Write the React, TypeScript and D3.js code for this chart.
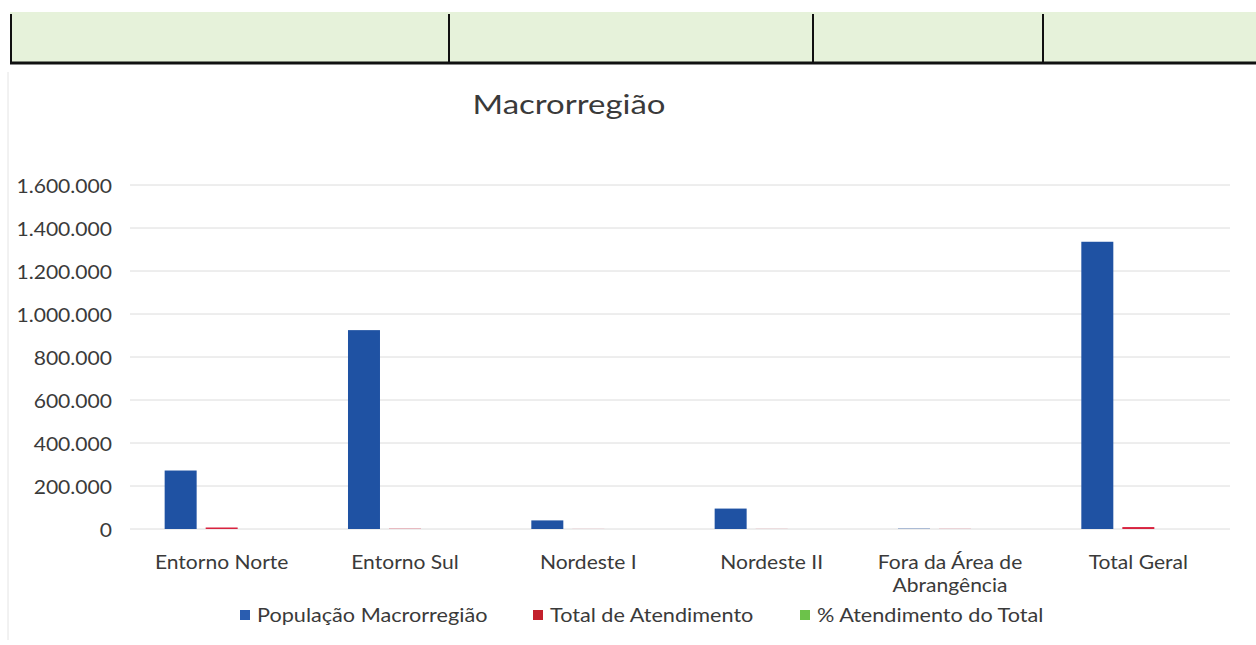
import React, { useEffect, useRef } from "react";
import * as d3 from "d3";

const categories = ["Entorno Norte", "Entorno Sul", "Nordeste I", "Nordeste II", "Fora da Área de Abrangência", "Total Geral"];
const seriesNames = ["População Macrorregião", "Total de Atendimento", "% Atendimento do Total"];
const populacao = [272000, 925000, 40000, 95000, 1500, 1336000];
const atendimento = [7000, 1200, 300, 400, 600, 9000];
const percentual = [0.026, 0.001, 0.008, 0.004, 0.4, 0.007];
const yTicks = [0, 200000, 400000, 600000, 800000, 1000000, 1200000, 1400000, 1600000];
const colors = ["#1f52a3", "#d8233f", "#6cc24a"];
const legendColors = ["#2a5db0", "#c3202c", "#6cc24a"];

const W = 1256;
const H = 645;
const FONT = "Lato, 'Open Sans', sans-serif";

// texto com leve esticamento horizontal (fonte do scan é mais larga)
const addText = (g, x, y, txt, size, anchor, sx) =>
  g.append("text")
    .attr("transform", `translate(${x},${y}) scale(${sx},1)`)
    .attr("text-anchor", anchor)
    .style("font-family", FONT)
    .style("font-size", size + "px")
    .style("fill", "#3a3a3a")
    .text(txt);

const App = () => {
  const ref = useRef(null);

  useEffect(() => {
    const svg = d3.select(ref.current);
    svg.selectAll("*").remove();

    // faixa verde da tabela acima
    const top = svg.append("g");
    top.append("rect").attr("x", 10).attr("y", 12).attr("width", W - 10).attr("height", 51).attr("fill", "#e6f2da");
    top.append("line").attr("x1", 10).attr("x2", W).attr("y1", 63).attr("y2", 63).attr("stroke", "#111").attr("stroke-width", 3);
    [11, 449, 813, 1043].forEach(x => {
      top.append("line").attr("x1", x).attr("x2", x).attr("y1", 14).attr("y2", 63).attr("stroke", "#111").attr("stroke-width", 2);
    });
    svg.append("line").attr("x1", 8).attr("x2", 8).attr("y1", 72).attr("y2", 640).attr("stroke", "#e4e4e4").attr("stroke-width", 1);

    addText(svg, 569, 114, "Macrorregião", 27, "middle", 1.22);

    const x = d3.scaleBand().domain(categories).range([130, 1230]).padding(0);
    const xs = d3.scaleBand().domain(seriesNames).range([0, x.bandwidth()]).paddingInner(0.22).paddingOuter(0.845);
    const y = d3.scaleLinear().domain([0, 1600000]).range([529, 185]);
    const fmt = d3.formatLocale({ decimal: ",", thousands: ".", grouping: [3], currency: ["R$", ""] }).format(",d");

    const grid = svg.append("g");
    yTicks.forEach(t => {
      grid.append("line")
        .attr("x1", 130).attr("x2", 1230)
        .attr("y1", y(t)).attr("y2", y(t))
        .attr("stroke", "#dcdcdc").attr("stroke-width", 1);
      addText(grid, 112, y(t) + 7.5, fmt(t), 18.5, "end", 1.14);
    });

    const seriesData = [populacao, atendimento, percentual];
    seriesData.forEach((vals, si) => {
      svg.append("g")
        .selectAll("rect")
        .data(vals)
        .join("rect")
        .attr("x", (d, i) => x(categories[i]) + xs(seriesNames[si]))
        .attr("width", xs.bandwidth())
        .attr("y", d => y(d))
        .attr("height", d => y(0) - y(d))
        .attr("fill", colors[si]);
    });

    const labels = svg.append("g");
    categories.forEach(c => {
      const wrap = c === "Fora da Área de Abrangência";
      const cx = x(c) + x.bandwidth() / 2 - (wrap ? 5 : 0);
      const lines = wrap ? ["Fora da Área de", "Abrangência"] : [c];
      lines.forEach((l, li) => addText(labels, cx, 569 + li * 23, l, 19.5, "middle", 1.08));
    });

    const legendX = [240, 533, 800];
    const legend = svg.append("g");
    seriesNames.forEach((s, i) => {
      legend.append("rect").attr("x", legendX[i]).attr("y", 610).attr("width", 10).attr("height", 10).attr("fill", legendColors[i]);
      addText(legend, legendX[i] + 17, 622, s, 19.5, "start", 1.11);
    });
  }, []);

  return (
    <svg ref={ref} width={W} height={H} style={{ position: "absolute", left: 0, top: 0, background: "#fff" }} />
  );
};

export default App;
